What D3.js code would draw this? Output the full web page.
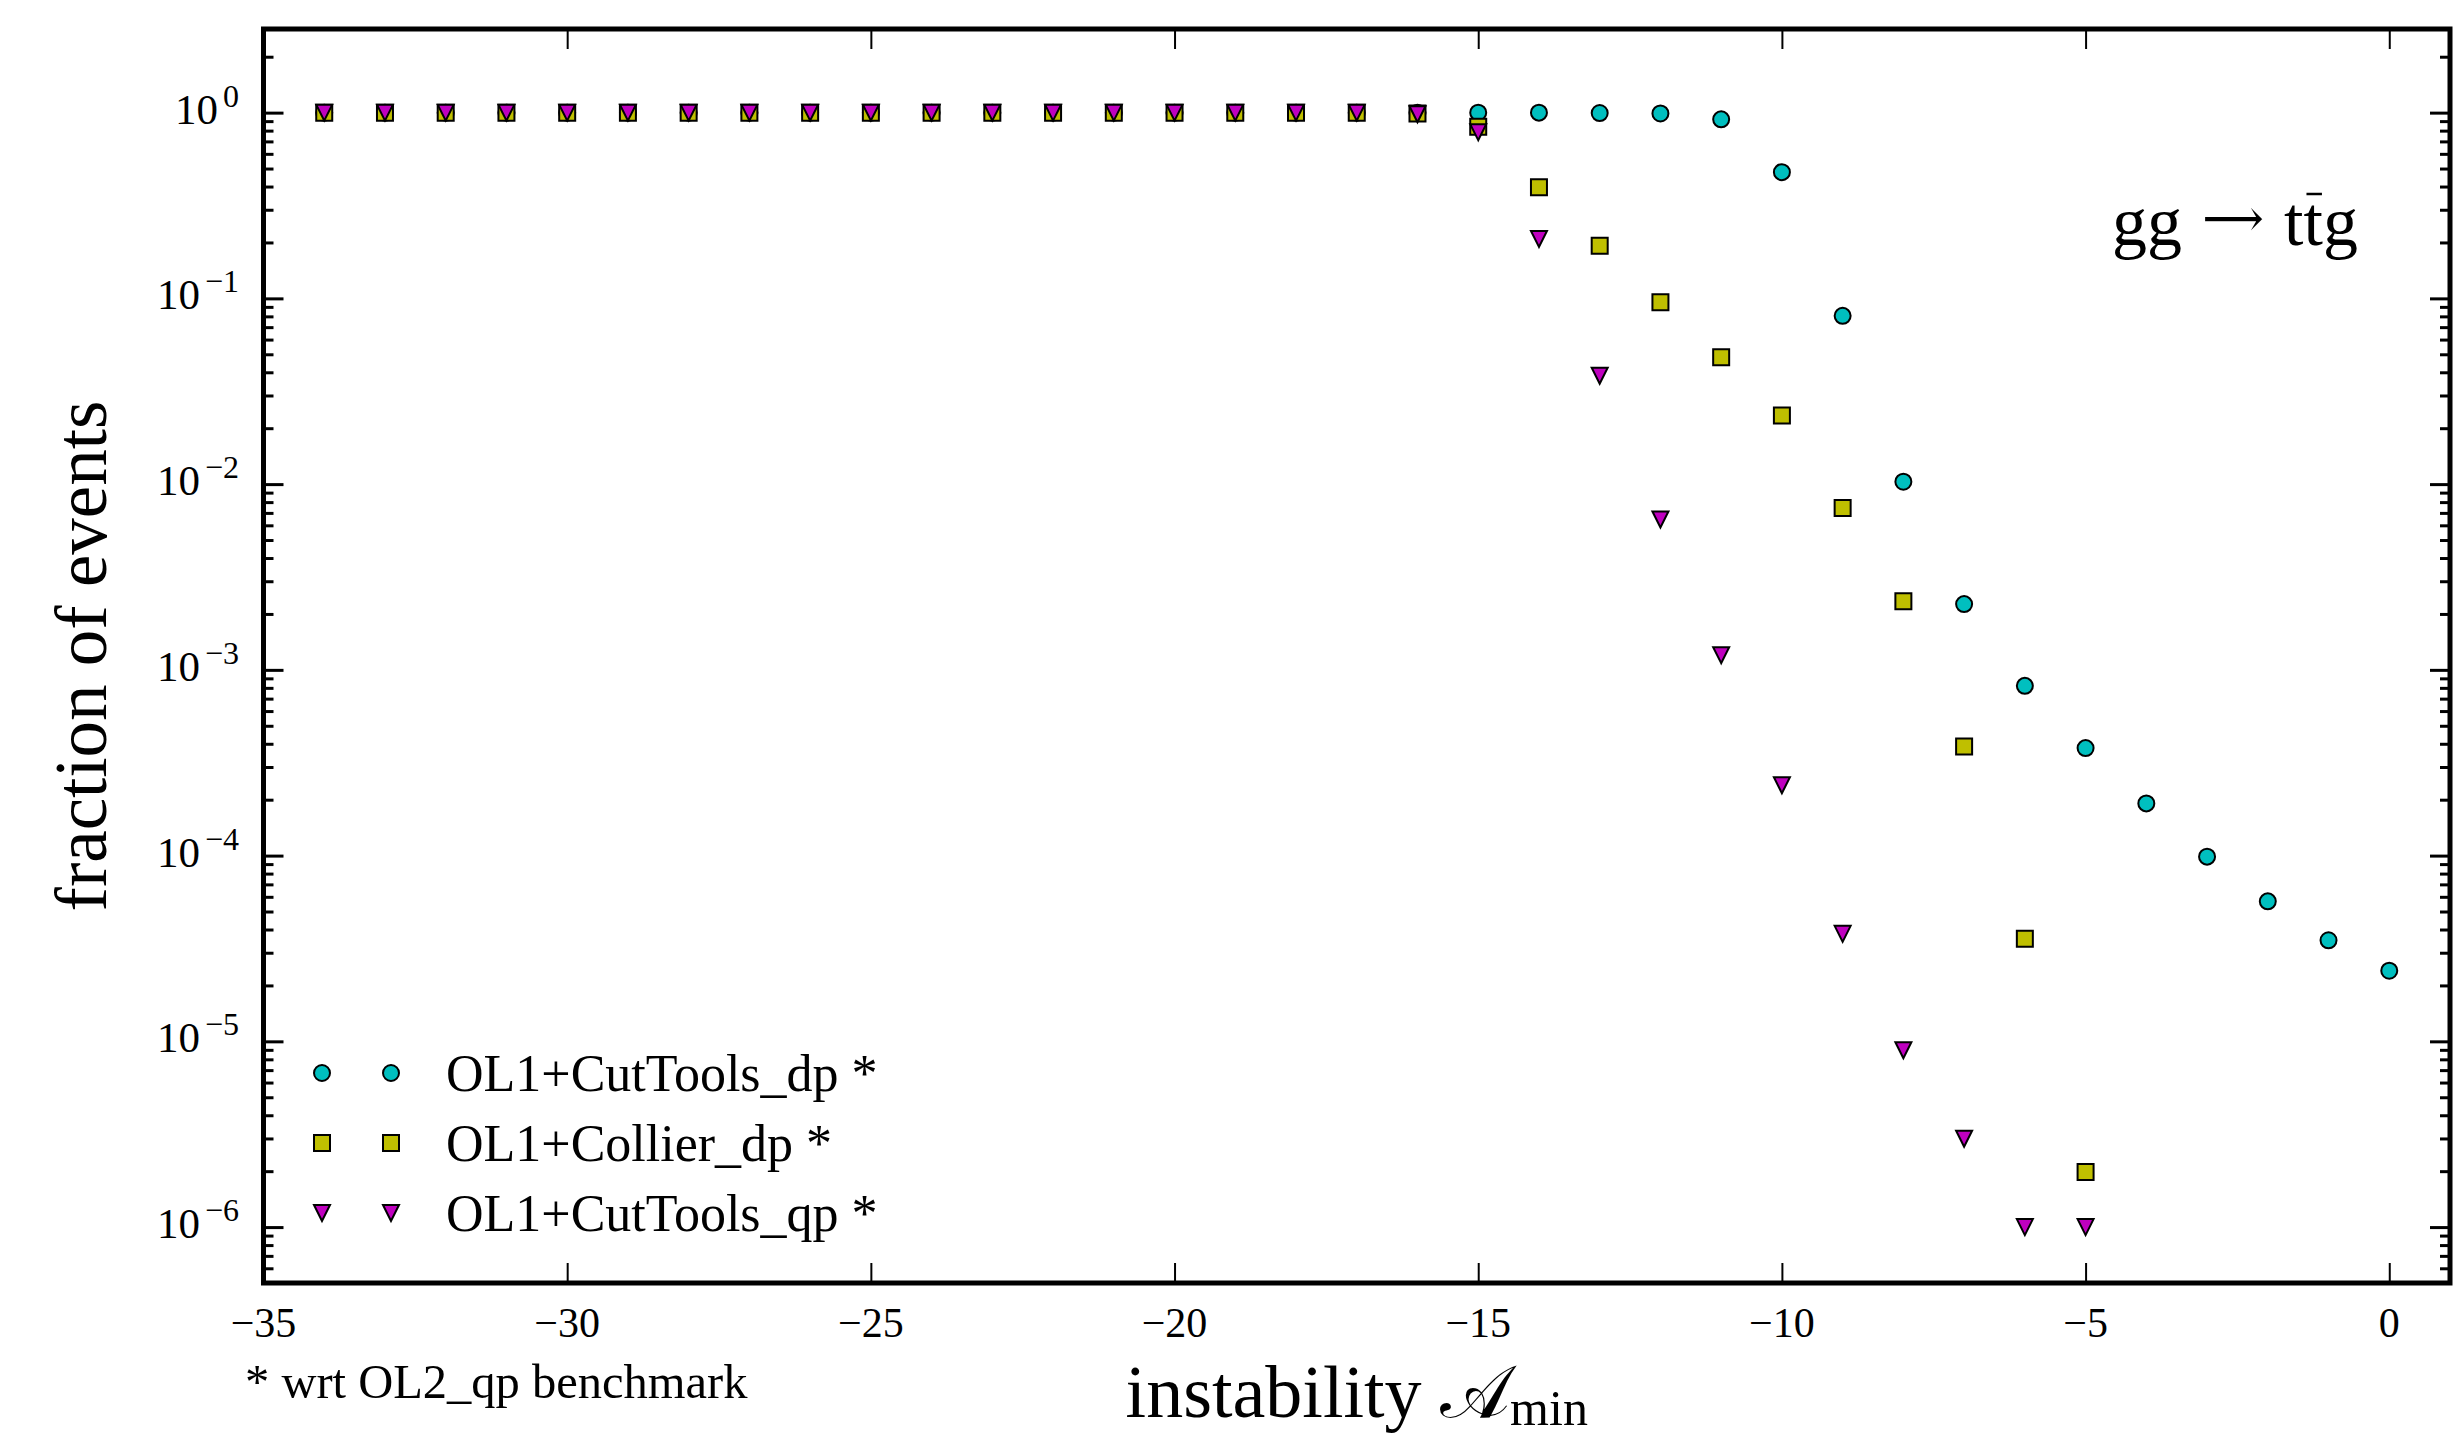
<!DOCTYPE html>
<html>
<head>
<meta charset="utf-8">
<script src="https://cdn.jsdelivr.net/npm/d3@7"></script>
<style>
  body { margin: 0; background: #fff; }
  svg { display: block; background: #fff; }
</style>
</head>
<body>
<svg id="chart"></svg>
<script>
// instability A_min values and fraction of events per series
const xCutToolsDp = [-34, -33, -32, -31, -30, -29, -28, -27, -26, -25, -24, -23, -22, -21, -20, -19, -18, -17, -16,
  -15, -14, -13, -12, -11, -10, -9, -8, -7, -6, -5, -4, -3, -2, -1, 0];
const fracCutToolsDp = [1, 1, 1, 1, 1, 1, 1, 1, 1, 1, 1, 1, 1, 1, 1, 1, 1, 1, 1,
  1, 1, 0.995, 0.99, 0.92, 0.478, 0.0805, 0.0103, 0.00226, 8.2e-4, 3.79e-4, 1.91e-4, 9.87e-5, 5.67e-5, 3.5e-5, 2.4e-5];

const xCollierDp = [-34, -33, -32, -31, -30, -29, -28, -27, -26, -25, -24, -23, -22, -21, -20, -19, -18, -17,
  -16, -15, -14, -13, -12, -11, -10, -9, -8, -7, -6, -5];
const fracCollierDp = [1, 1, 1, 1, 1, 1, 1, 1, 1, 1, 1, 1, 1, 1, 1, 1, 1, 1,
  0.99, 0.84, 0.397, 0.192, 0.0954, 0.0482, 0.0234, 0.00743, 0.00234, 3.87e-4, 3.57e-5, 1.98e-6];

const xCutToolsQp = [-34, -33, -32, -31, -30, -29, -28, -27, -26, -25, -24, -23, -22, -21, -20, -19, -18, -17,
  -16, -15, -14, -13, -12, -11, -10, -9, -8, -7, -6, -5];
const fracCutToolsQp = [1, 1, 1, 1, 1, 1, 1, 1, 1, 1, 1, 1, 1, 1, 1, 1, 1, 1,
  0.98, 0.785, 0.209, 0.0383, 0.00645, 0.0012, 2.39e-4, 3.79e-5, 8.95e-6, 2.99e-6, 1e-6, 1e-6];

const seriesLabels = ["OL1+CutTools_dp *", "OL1+Collier_dp *", "OL1+CutTools_qp *"];
const seriesColors = ["#00bfbf", "#bfbf00", "#bf00bf"];
const seriesShapes = ["circle", "square", "triangle"];

// axis ticks
const xTickValues = [-35, -30, -25, -20, -15, -10, -5, 0];
const yMajorExponents = [0, -1, -2, -3, -4, -5, -6];

const SERIF = "'Liberation Serif', 'Times New Roman', serif";

document.addEventListener("DOMContentLoaded", function () {
  renderChart();
});

// path for one marker centred on 0,0
function markerPath(shape, s) {
  const h = s / 2;
  if (shape === "circle") {
    const p = d3.path();
    p.arc(0, 0, h, 0, 2 * Math.PI);
    p.closePath();
    return p.toString();
  }
  if (shape === "square") {
    return `M${-h},${-h}L${h},${-h}L${h},${h}L${-h},${h}Z`;
  }
  // downward triangle, like matplotlib "v"
  return `M0,${h}L${-h},${-h}L${h},${-h}Z`;
}

function renderChart() {
  const W = 2460, H = 1441;
  const svg = d3.select("#chart")
    .attr("width", W)
    .attr("height", H)
    .attr("font-family", SERIF);

  svg.append("rect").attr("width", W).attr("height", H).attr("fill", "#fff");

  // plot box in pixels
  const left = 263.5, right = 2450, top = 29, bottom = 1283;

  const x = d3.scaleLinear().domain([-35, 1]).range([left, right]);
  const y = d3.scaleLog().domain([5e-7, 2.82]).range([bottom, top]);

  const ms = 16;

  // minor / major y ticks
  const allY = y.ticks();
  const yMajor = yMajorExponents.map((e) => Math.pow(10, e));
  const yMinor = allY.filter((v) => Math.abs(Math.log10(v) - Math.round(Math.log10(v))) > 1e-6);

  // --- data points (drawn in plotting order) ---
  const series = [
    { xs: xCutToolsDp, ys: fracCutToolsDp },
    { xs: xCollierDp, ys: fracCollierDp },
    { xs: xCutToolsQp, ys: fracCutToolsQp },
  ];

  const plot = svg.append("g");
  series.forEach((s, i) => {
    const pts = s.xs.map((xv, j) => ({ x: xv, y: s.ys[j] }));
    plot.append("g")
      .selectAll("path")
      .data(pts)
      .enter()
      .append("path")
      .attr("d", markerPath(seriesShapes[i], ms))
      .attr("transform", (d) => `translate(${x(d.x)},${y(d.y)})`)
      .attr("fill", seriesColors[i])
      .attr("stroke", "#000")
      .attr("stroke-width", 2)
      .attr("stroke-linejoin", "miter");
  });

  // --- ticks (inward, on all four sides) ---
  function styleTicks(g, width) {
    g.select(".domain").remove();
    g.selectAll(".tick line").attr("stroke", "#000").attr("stroke-width", width);
  }

  svg.append("g")
    .attr("transform", `translate(0,${bottom})`)
    .call(d3.axisBottom(x).tickValues(xTickValues).tickSize(-20).tickFormat(""))
    .call((g) => styleTicks(g, 2));
  svg.append("g")
    .attr("transform", `translate(0,${top})`)
    .call(d3.axisTop(x).tickValues(xTickValues).tickSize(-20).tickFormat(""))
    .call((g) => styleTicks(g, 2));

  [
    [d3.axisLeft, left],
    [d3.axisRight, right],
  ].forEach(([axisFn, pos]) => {
    svg.append("g")
      .attr("transform", `translate(${pos},0)`)
      .call(axisFn(y).tickValues(yMajor).tickSize(-20).tickFormat(""))
      .call((g) => styleTicks(g, 3));
    svg.append("g")
      .attr("transform", `translate(${pos},0)`)
      .call(axisFn(y).tickValues(yMinor).tickSize(-10).tickFormat(""))
      .call((g) => styleTicks(g, 3));
  });

  // frame
  svg.append("rect")
    .attr("x", left)
    .attr("y", top)
    .attr("width", right - left)
    .attr("height", bottom - top)
    .attr("fill", "none")
    .attr("stroke", "#000")
    .attr("stroke-width", 5);

  // x tick labels
  const fmt = d3.format("d");
  svg.append("g")
    .selectAll("text")
    .data(xTickValues)
    .enter()
    .append("text")
    .attr("x", (d) => x(d))
    .attr("y", 1337)
    .attr("text-anchor", "middle")
    .attr("font-family", SERIF)
    .attr("font-size", 42)
    .text((d) => fmt(d));

  // y tick labels 10^n
  const yLab = svg.append("g")
    .selectAll("text")
    .data(yMajorExponents)
    .enter()
    .append("text")
    .attr("x", 239)
    .attr("y", (d) => y(Math.pow(10, d)) + 11)
    .attr("text-anchor", "end")
    .attr("font-family", SERIF)
    .attr("font-size", 43);
  yLab.append("tspan").text("10");
  yLab.append("tspan")
    .attr("dx", 5)
    .attr("dy", -17)
    .attr("font-size", 32)
    .text((d) => fmt(d));

  // axis titles
  const xTitle = svg.append("text")
    .attr("x", (left + right) / 2)
    .attr("y", 1417)
    .attr("text-anchor", "middle")
    .attr("font-family", SERIF)
    .attr("font-size", 74);
  xTitle.append("tspan").text("instability ");
  xTitle.append("tspan").text("\uD835\uDC9C");
  xTitle.append("tspan").attr("dy", 8).attr("font-size", 50).text("min");

  svg.append("text")
    .attr("transform", `translate(106,${(top + bottom) / 2}) rotate(-90)`)
    .attr("text-anchor", "middle")
    .attr("font-family", SERIF)
    .attr("font-size", 73)
    .text("fraction of events");

  // process label with a bar over the second t
  const proc = svg.append("text")
    .attr("x", 2112)
    .attr("y", 245)
    .attr("font-family", SERIF)
    .attr("font-size", 70);
  proc.append("tspan").text("gg ");
  proc.append("tspan")
    .attr("font-family", "'DejaVu Serif', serif")
    .attr("font-size", 80)
    .attr("stroke", "#fff")
    .attr("stroke-width", 2)
    .text("\u2192");
  proc.append("tspan").text(" ttg");
  const procNode = proc.node();
  const nChars = procNode.getNumberOfChars();
  const barStart = procNode.getStartPositionOfChar(nChars - 2);
  const barEnd = procNode.getEndPositionOfChar(nChars - 2);
  svg.append("line")
    .attr("x1", barStart.x + 3)
    .attr("x2", barEnd.x - 1)
    .attr("y1", 194)
    .attr("y2", 194)
    .attr("stroke", "#000")
    .attr("stroke-width", 2.5);

  // legend (two marker points per entry, no frame)
  const legendRows = [1073, 1143, 1213];
  seriesLabels.forEach((label, i) => {
    const g = svg.append("g");
    [322, 391].forEach((mx) => {
      g.append("path")
        .attr("d", markerPath(seriesShapes[i], ms))
        .attr("transform", `translate(${mx},${legendRows[i]})`)
        .attr("fill", seriesColors[i])
        .attr("stroke", "#000")
        .attr("stroke-width", 2)
        .attr("stroke-linejoin", "miter");
    });
    g.append("text")
      .attr("x", 446)
      .attr("y", legendRows[i] + 18)
      .attr("font-family", SERIF)
      .attr("font-size", 52)
      .text(label);
  });

  // footnote
  svg.append("text")
    .attr("x", 245)
    .attr("y", 1398)
    .attr("font-family", SERIF)
    .attr("font-size", 48.5)
    .text("* wrt OL2_qp benchmark");
}
</script>
</body>
</html>
